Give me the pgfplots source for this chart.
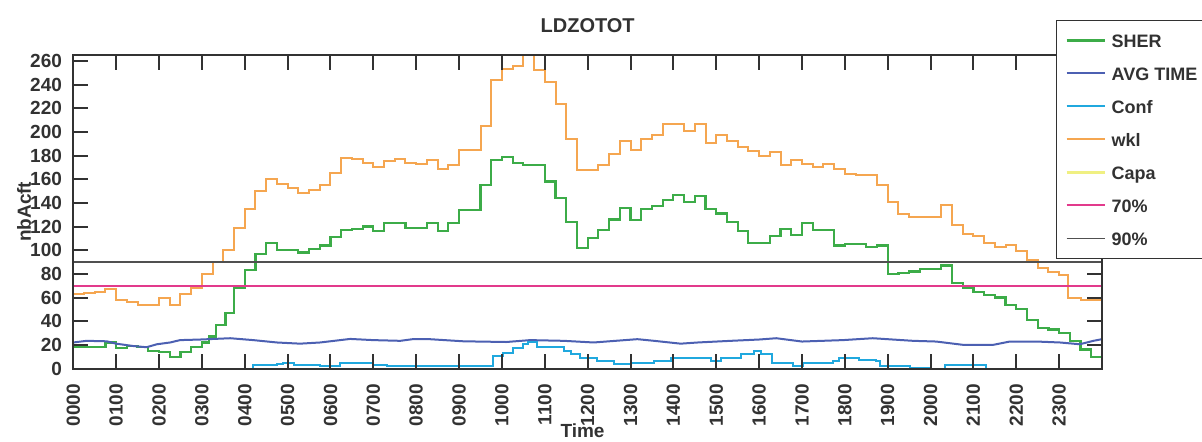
\documentclass[border=0pt]{standalone}
\usepackage{pgfplots}
\pgfplotsset{compat=1.18}
\usepackage{fontspec}
\setmainfont{Liberation Sans}
\definecolor{cgreen}{RGB}{60,172,72}
\definecolor{corange}{RGB}{245,166,80}
\definecolor{cblue}{RGB}{76,96,178}
\definecolor{ccyan}{RGB}{32,168,222}
\definecolor{cpink}{RGB}{226,58,140}
\definecolor{cgray}{RGB}{80,80,80}
\definecolor{cyellow}{RGB}{240,240,130}
\definecolor{txt}{RGB}{50,50,50}
\begin{document}
\begin{tikzpicture}
\path[use as bounding box] (0,0) rectangle (601pt,220.5pt);
\begin{axis}[
  at={(36.65pt,36.25pt)}, anchor=south west,
  scale only axis, width=514.35pt, height=156.75pt,
  xmin=0, xmax=24, ymin=0, ymax=265,
  axis on top,
  xtick={0,1,...,23},
  xticklabels={0000,0100,0200,0300,0400,0500,0600,0700,0800,0900,1000,1100,1200,1300,1400,1500,1600,1700,1800,1900,2000,2100,2200,2300},
  ytick={0,20,...,260},
  tick align=inside, xtick pos=both, ytick pos=both,
  xticklabel pos=lower, yticklabel pos=left,
  major tick length=7.5pt,
  every tick/.style={txt, line width=1pt},
  axis line style={txt, line width=1pt},
  /pgf/number format/assume math mode=true,
  ticklabel style={font=\bfseries\fontsize{9.5}{10}\selectfont, text=txt},
  xticklabel style={rotate=90, anchor=east, inner sep=0pt},
  xticklabel shift=7.5pt,
  yticklabel style={anchor=east, inner sep=0pt},
  yticklabel shift=5.5pt,
  title={LDZOTOT},
  title style={at={(axis description cs:0.5,1)}, anchor=center, yshift=8.5pt, font=\bfseries\fontsize{10}{10}\selectfont, text=txt},
  xlabel={Time},
  xlabel style={at={(axis description cs:0.495,0)}, anchor=center, yshift=-31pt, font=\bfseries\fontsize{9.5}{10}\selectfont, text=txt},
  ylabel={nbAcft},
  ylabel style={at={(axis description cs:-0.0479,0.5)}, anchor=center, font=\bfseries\fontsize{9.5}{10}\selectfont, text=txt},
  legend style={at={(rel axis cs:0.9553,1.1116)}, anchor=north west, draw=txt, fill=white,
    inner xsep=4.5pt, inner ysep=6.5pt, row sep=9.5pt,
    font=\bfseries\fontsize{9}{10}\selectfont, text=txt,
    nodes={inner sep=0pt, text height=7pt, text depth=0pt}},
  legend cell align=left,
  legend image code/.code={\draw[#1] (0pt,0pt) -- (19pt,0pt); \path (22pt,0pt);},
]
% SHER
\addplot[const plot, color=cgreen, line width=1.1pt] coordinates {
(0.00,18) (0.75,22) (1.00,17) (1.25,19) (1.50,18) (1.75,15) (2.00,14) (2.25,10) (2.50,14) (2.75,18)
(3.00,22) (3.17,27) (3.33,37) (3.55,47) (3.75,68) (4.00,83) (4.25,97) (4.50,106) (4.75,100) (5.25,98)
(5.50,101) (5.75,104) (6.00,111) (6.25,117) (6.50,118) (6.75,120) (7.00,116) (7.25,123) (7.75,119)
(8.25,123) (8.50,116) (8.75,123) (9.00,134) (9.50,155) (9.75,176) (10.00,179) (10.25,174) (10.50,172)
(11.00,158) (11.25,144) (11.50,124) (11.75,102) (12.00,110) (12.25,117) (12.50,126) (12.75,135.5)
(13.00,125.6) (13.25,134.6) (13.50,137.4) (13.75,142.5) (14.00,146.7) (14.25,141) (14.50,146) (14.75,134.6)
(15.00,131) (15.25,124) (15.50,116) (15.75,106) (16.25,112) (16.50,118) (16.75,113) (17.00,123)
(17.25,117) (17.75,104) (18.00,105) (18.50,103) (18.75,104) (19.00,80) (19.25,81) (19.50,82) (19.75,84)
(20.25,87) (20.50,72) (20.75,68) (21.00,65) (21.25,62) (21.50,60) (21.75,54) (22.00,50) (22.25,41)
(22.50,34) (22.75,33) (23.00,30) (23.25,23) (23.50,16) (23.75,10) (24.00,10)};
\addlegendentry{SHER}
% AVG TIME
\addplot[color=cblue, line width=1pt] coordinates {
(0,22) (0.31,23.4) (0.78,23) (1.0,21) (1.4,19) (1.71,18) (1.95,20.5) (2.26,22) (2.49,24) (2.96,24.5)
(3.66,25.6) (4.2,24) (4.75,22) (5.29,21) (5.76,22) (6.46,25) (7.0,24) (7.63,23.4) (7.92,24.8) (8.31,24.8)
(9.1,23) (10.1,22.4) (10.66,24) (11.44,23.4) (12.14,22) (13.16,24.8) (13.55,23.4) (14.17,21) (14.57,22)
(15.34,23.4) (16.0,24.5) (16.4,25.6) (17.0,22.8) (17.95,24) (18.65,25.6) (19.59,23.4) (20.13,22.8)
(20.76,20) (21.46,20) (21.85,22.8) (22.47,22.8) (23.02,22) (23.48,20.5) (23.8,23.4) (24,24.8)};
\addlegendentry{AVG TIME}
% Conf
\addplot[const plot, color=ccyan, line width=1pt] coordinates {
(0,0) (4.2,3) (4.75,4) (4.9,5) (5.14,3) (5.76,1.7) (6.23,5) (7.0,3) (7.31,1.7) (9.8,10.7) (10.03,12.7)
(10.25,17) (10.5,20.5) (10.6,22.8) (10.81,18.3) (11.44,15) (11.6,12) (11.83,8.7) (12.22,6) (12.61,3.7)
(13.0,5) (13.55,6.5) (13.94,8.7) (14.88,6.5) (15.11,9.3) (15.58,12) (15.89,15) (16.05,12) (16.31,5)
(16.78,1.7) (17.02,5) (17.72,6.5) (17.87,9.3) (18.34,7) (18.73,6.5) (18.81,1.7) (19.51,0.8) (20.0,0)
(20.33,3) (21.3,0) (24,0)};
\addlegendentry{Conf}
% wkl
\addplot[const plot, color=corange, line width=1pt] coordinates {
(0.00,63) (0.25,64) (0.50,65) (0.75,67) (1.00,58) (1.25,56) (1.50,54) (2.00,60) (2.25,54) (2.50,63)
(2.75,68) (3.00,80) (3.25,90) (3.50,100) (3.75,119) (4.00,135) (4.25,150) (4.50,160) (4.75,156)
(5.00,153) (5.25,148) (5.50,151) (5.75,155) (6.00,165) (6.25,178) (6.50,177) (6.75,174) (7.00,170)
(7.25,175) (7.50,177) (7.75,174) (8.00,173) (8.25,176) (8.50,169) (8.75,172) (9.00,185) (9.50,205)
(9.75,244) (10.00,253) (10.25,256) (10.50,268) (10.75,252) (11.00,242) (11.25,224) (11.50,194)
(11.75,168) (12.25,172) (12.50,181) (12.75,192.5) (13.00,185) (13.25,194) (13.50,197) (13.75,207)
(14.25,201) (14.50,207) (14.75,191) (15.00,197) (15.25,192.5) (15.50,187) (15.75,184) (16.00,180)
(16.25,183) (16.50,172) (16.75,176) (17.00,173) (17.25,170) (17.50,173) (17.75,169) (18.00,164.5)
(18.25,163.5) (18.75,155) (19.00,141) (19.25,131) (19.50,128) (20.25,138) (20.50,121) (20.75,114)
(21.00,112) (21.25,106) (21.50,103) (21.75,104.5) (22.00,99) (22.25,92) (22.50,85) (22.75,82)
(23.00,79) (23.20,60) (23.50,58) (24.00,58)};
\addlegendentry{wkl}
\addlegendimage{color=cyellow, line width=1.1pt}
\addlegendentry{Capa}
% 70%
\addplot[color=cpink, line width=1pt] coordinates {(0,70) (24,70)};
\addlegendentry{70\%}
% 90%
\addplot[color=cgray, line width=0.7pt] coordinates {(0,90) (24,90)};
\addlegendentry{90\%}
\end{axis}
\end{tikzpicture}
\end{document}
